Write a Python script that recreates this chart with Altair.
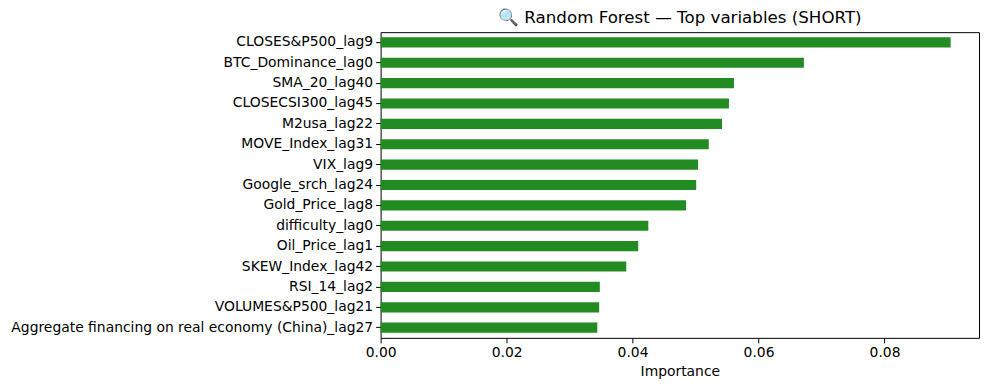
import altair as alt
import pandas as pd

features = [
    "CLOSES&P500_lag9",
    "BTC_Dominance_lag0",
    "SMA_20_lag40",
    "CLOSECSI300_lag45",
    "M2usa_lag22",
    "MOVE_Index_lag31",
    "VIX_lag9",
    "Google_srch_lag24",
    "Gold_Price_lag8",
    "difficulty_lag0",
    "Oil_Price_lag1",
    "SKEW_Index_lag42",
    "RSI_14_lag2",
    "VOLUMES&P500_lag21",
    "Aggregate financing on real economy (China)_lag27",
]
importance = [0.0905, 0.0672, 0.0561, 0.0553, 0.0542, 0.0521, 0.0504, 0.0501,
              0.0485, 0.0425, 0.0409, 0.0390, 0.0348, 0.0347, 0.0344]
x_ticks = [0.0, 0.02, 0.04, 0.06, 0.08]

df = pd.DataFrame({"feature": features, "importance": importance})

FONT = "DejaVu Sans"

chart = alt.Chart(df).mark_bar(color="#228B22").encode(
    x=alt.X(
        "importance:Q",
        title="Importance",
        scale=alt.Scale(domain=[0, 0.095], nice=False, zero=True),
        axis=alt.Axis(
            values=x_ticks,
            format=".2f",
            grid=False,
            domain=False,
            labelFlush=False,
            tickColor="black",
            tickSize=5,
            labelPadding=3,
            labelFontSize=13.9,
            labelColor="black",
            labelFont=FONT,
            titleFont=FONT,
            titleFontSize=13.9,
            titleFontWeight="normal",
            titleColor="black",
            titlePadding=5,
        ),
    ),
    y=alt.Y(
        "feature:N",
        sort=features,
        title=None,
        scale=alt.Scale(paddingInner=0.5, paddingOuter=0.25),
        axis=alt.Axis(
            grid=False,
            domain=False,
            tickColor="black",
            tickSize=5,
            labelPadding=3,
            labelFontSize=13.9,
            labelColor="black",
            labelFont=FONT,
            labelLimit=500,
        ),
    ),
).properties(
    width=599,
    height=306,
    title=alt.TitleParams(
        "🔍 Random Forest — Top variables (SHORT)",
        font=FONT,
        fontSize=16.7,
        fontWeight="normal",
        color="black",
        anchor="middle",
        offset=5,
    ),
    autosize=alt.AutoSizeParams(type="none"),
    padding={"left": 373, "top": 24, "right": 2, "bottom": 44},
).configure_view(
    stroke="black",
    strokeWidth=1,
)

chart.save("out.html", embed_options={"renderer": "svg", "actions": False})
